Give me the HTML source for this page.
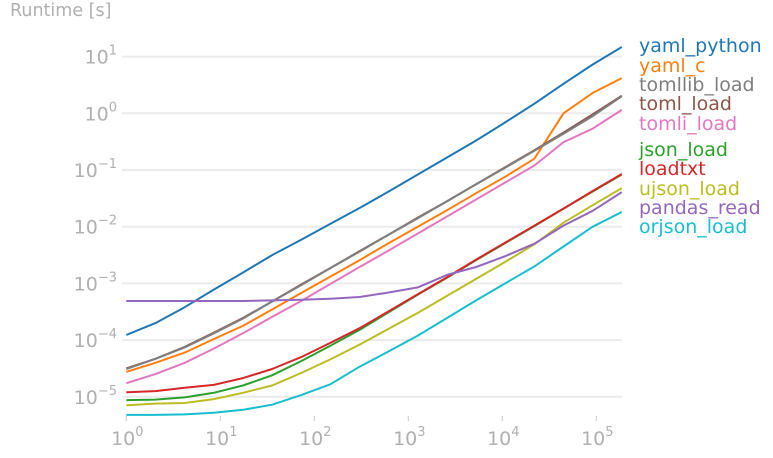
<!DOCTYPE html>
<html><head><meta charset="utf-8">
<style>
html,body{margin:0;padding:0;background:#fff;}
svg{display:block;font-family:"DejaVu Sans","Liberation Sans",sans-serif;}
</style></head>
<body>
<svg id="chart" width="773" height="458" viewBox="0 0 773 458" xmlns="http://www.w3.org/2000/svg">
<text x="10" y="16" font-size="17.5" fill="#b0b0b0">Runtime [s]</text>
<g id="grid"></g>
<g id="xticks"></g>
<g id="yticks"></g>
<g id="series"></g>
<g id="legend"></g>
</svg>
<script>
const nValues = [1,2.04,4.18,8.53,17.4,35.6,72.6,148,303,618,1262,2578,5263,10746,21940,44790,91450,186700];
const seriesNames = ["yaml_python","yaml_c","tomllib_load","toml_load","tomli_load","json_load","loadtxt","ujson_load","pandas_read","orjson_load"];
const seriesColors = ["#1f77b4","#ff7f0e","#7f7f7f","#8c564b","#e377c2","#2ca02c","#d62728","#bcbd22","#9467bd","#17becf"];
const yamlPythonLog = [-3.91,-3.70,-3.42,-3.11,-2.81,-2.50,-2.23,-1.95,-1.67,-1.38,-1.08,-0.78,-0.48,-0.16,0.17,0.52,0.86,1.17];
const yamlCLog = [-4.56,-4.40,-4.22,-3.98,-3.75,-3.46,-3.17,-2.88,-2.59,-2.29,-2.00,-1.71,-1.41,-1.12,-0.80,0.0,0.36,0.62];
const tomllibLog = [-4.51,-4.33,-4.13,-3.88,-3.62,-3.32,-3.03,-2.73,-2.44,-2.14,-1.85,-1.55,-1.25,-0.96,-0.66,-0.36,-0.05,0.30];
const tomlLog = [-4.50,-4.33,-4.12,-3.87,-3.61,-3.32,-3.02,-2.73,-2.43,-2.14,-1.84,-1.55,-1.25,-0.95,-0.65,-0.34,-0.02,0.31];
const tomliLog = [-4.76,-4.60,-4.40,-4.15,-3.88,-3.59,-3.31,-3.01,-2.71,-2.42,-2.12,-1.82,-1.52,-1.22,-0.92,-0.51,-0.27,0.06];
const jsonLog = [-5.06,-5.05,-5.01,-4.93,-4.80,-4.62,-4.37,-4.10,-3.82,-3.51,-3.20,-2.90,-2.59,-2.29,-1.99,-1.68,-1.38,-1.08];
const loadtxtLog = [-4.92,-4.90,-4.84,-4.79,-4.67,-4.51,-4.30,-4.05,-3.79,-3.49,-3.19,-2.89,-2.58,-2.28,-1.98,-1.68,-1.37,-1.07];
const ujsonLog = [-5.15,-5.12,-5.11,-5.04,-4.93,-4.80,-4.58,-4.34,-4.08,-3.80,-3.52,-3.22,-2.92,-2.62,-2.31,-1.93,-1.62,-1.32];
const pandasLog = [-3.31,-3.31,-3.31,-3.31,-3.31,-3.30,-3.29,-3.27,-3.24,-3.16,-3.07,-2.85,-2.71,-2.52,-2.30,-1.98,-1.72,-1.39];
const orjsonLog = [-5.32,-5.32,-5.31,-5.28,-5.23,-5.14,-4.97,-4.78,-4.47,-4.20,-3.92,-3.61,-3.30,-3.00,-2.70,-2.35,-2.00,-1.74];
const xTickExps = [0,1,2,3,4,5];
const yTickExps = [1,0,-1,-2,-3,-4,-5];
const legendY = [46,66,85,104,124,150,169,189,208,227];
const drawOrder = [0,1,3,2,4,5,6,7,8,9];

const NS = "http://www.w3.org/2000/svg";
const X0 = 126.3, XD = 94.0, Y0 = 113.3, YD = 56.7;
const xs = n => X0 + Math.log10(n) * XD;
const ys = lg => Y0 - lg * YD;
const allSeries = [yamlPythonLog,yamlCLog,tomllibLog,tomlLog,tomliLog,jsonLog,loadtxtLog,ujsonLog,pandasLog,orjsonLog];
function mk(tag, attrs, parent){const e=document.createElementNS(NS,tag);for(const k in attrs)e.setAttribute(k,attrs[k]);parent.appendChild(e);return e;}
const grid=document.getElementById('grid'), xt=document.getElementById('xticks'), yt=document.getElementById('yticks');
const ser=document.getElementById('series'), leg=document.getElementById('legend');
yTickExps.forEach(e=>{
  const y=ys(e);
  const l=mk('line',{x1:122,x2:622,y1:y,y2:y,stroke:'#ebebeb','stroke-width':2},grid);
  
  
  const t=mk('text',{x:117,y:y+7,'text-anchor':'end','font-size':19,fill:'#b0b0b0'},yt);
  
  
  t.innerHTML='10<tspan font-size="13" dy="-9">'+(e<0?'\u2212'+(-e):e)+'</tspan>';
});
xTickExps.forEach(e=>{
  const x=X0+e*XD;
  const l=mk('line',{x1:x,x2:x,y1:416,y2:421,stroke:'#c8c8c8','stroke-width':1},xt);
  
  
  const t=mk('text',{x:x+1,y:445,'text-anchor':'middle','font-size':19,fill:'#b0b0b0'},xt);
  
  
  t.innerHTML='10<tspan font-size="13" dy="-9">'+e+'</tspan>';
});
drawOrder.forEach(i=>{
  const arr=allSeries[i];
  const d=arr.map((v,k)=>(k?'L':'M')+xs(nValues[k]).toFixed(1)+','+ys(v).toFixed(1)).join(' ');
  const p=mk('path',{d:d,fill:'none',stroke:seriesColors[i],'stroke-width':2,'stroke-linejoin':'round'},ser);
  
  
});
seriesNames.forEach((name,i)=>{
  const t=mk('text',{x:639,y:legendY[i]+6,'font-size':19,fill:seriesColors[i]},leg);
  
  
  t.textContent=name;
});
</script>
</body></html>
